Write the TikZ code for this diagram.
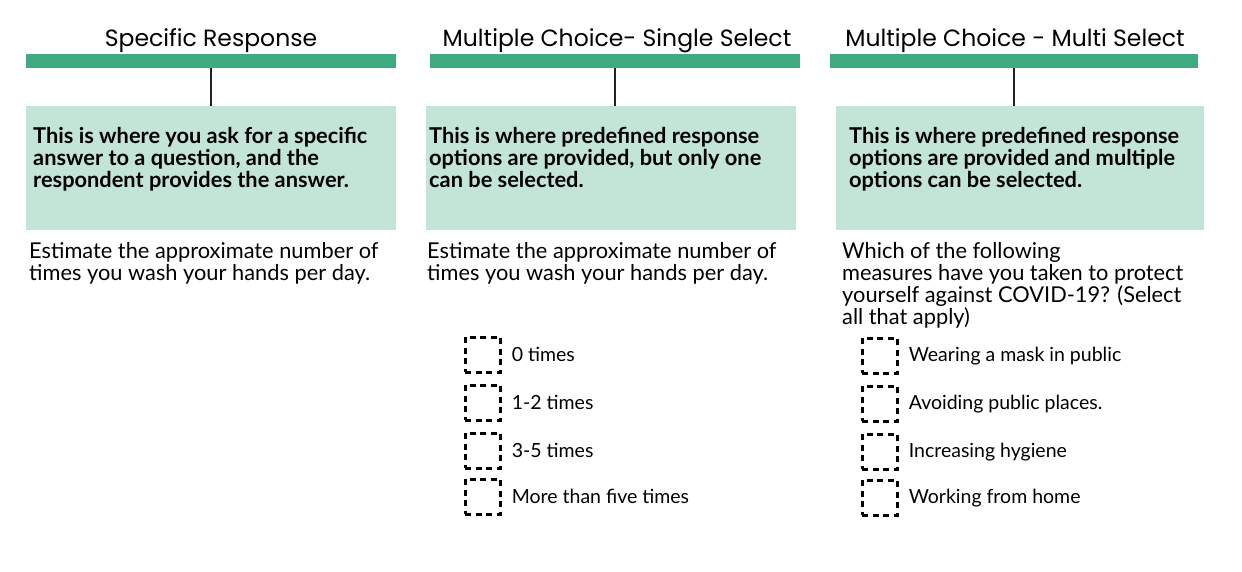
\documentclass[tikz,border=0pt]{standalone}
\usepackage{fontspec}
\setmainfont{Lato}
\newfontfamily\headfont{Poppins}
\usetikzlibrary{positioning}
\definecolor{barGreen}{HTML}{3DAA7F}
\definecolor{boxGreen}{HTML}{C2E5D7}
\definecolor{inkGray}{HTML}{222222}
\tikzset{
    head/.style = {font = \headfont\fontsize{23.5}{27}\selectfont, inner sep = 0},
    bar/.style = {fill = barGreen, minimum width = 370, minimum height = 14, inner sep = 0, anchor = north west},
    note/.style = {fill = boxGreen, minimum width = 370, minimum height = 124, inner sep = 0, anchor = north west},
    stem/.style = {draw = inkGray, line width = 1.6},
    desc/.style = {font = \bfseries\fontsize{21.8}{22}\selectfont, align = left, anchor = north west, inner sep = 0},
    quest/.style = {font = \fontsize{21.8}{22}\selectfont, align = left, anchor = north west, inner sep = 0},
    checkbox/.style = {draw, line width = 2.6, dash pattern = on 6pt off 4.5pt, minimum size = 35, inner sep = 0, anchor = north west},
    opt/.style = {font = \fontsize{19.5}{22}\selectfont, anchor = west, inner sep = 0}
}
\begin{document}
\begin{tikzpicture}[x = 1pt, y = -1pt]
    \useasboundingbox (0,0) rectangle (1242,572);
    % headings and bars
    \node[head] (h1) at (211,41) {Specific Response};
    \node[head] (h2) at (617,41) {Multiple Choice- Single Select};
    \node[head] (h3) at (1015,41) {Multiple Choice - Multi Select};
    \node[bar] (b1) at (26,54) {};
    \node[bar] (b2) at (430,54) {};
    \node[bar, minimum width = 368] (b3) at (830,54) {};
    % definition boxes
    \node[note] (n1) at (26,106) {};
    \node[note] (n2) at (426,106) {};
    \node[note, minimum width = 368] (n3) at (836,106) {};
    \draw[stem] (b1.south) -- (b1.south |- n1.north);
    \draw[stem] (b2.south) -- (b2.south |- n2.north);
    \draw[stem] (b3.south) -- (b3.south |- n3.north);
    \node[desc] (d1) at (33,127) {This is where you ask for a specific\\answer to a question, and the\\respondent provides the answer.};
    \node[desc] (d2) at (429,127) {This is where predefined response\\options are provided, but only one\\can be selected.};
    \node[desc] (d3) at (849,127) {This is where predefined response\\options are provided and multiple\\options can be selected.};
    % example questions
    \node[quest] (q1) at (29,242) {Estimate the approximate number of\\times you wash your hands per day.};
    \node[quest] (q2) at (427,242) {Estimate the approximate number of\\times you wash your hands per day.};
    \node[quest] (q3) at (842,242) {Which of the following\\measures have you taken to protect\\yourself against COVID-19? (Select\\all that apply)};
    % answer options
    \foreach \y/\t [count = \i] in {336/0 times, 384/1-2 times, 432/3-5 times, 478/More than five times} {
        \node[checkbox] (s\i) at (464,\y) {};
        \node[opt, right = 10pt of s\i] (sl\i) {\t};
    }
    \foreach \y/\t [count = \i] in {337/Wearing a mask in public, 385/Avoiding public places., 433/Increasing hygiene, 479/Working from home} {
        \node[checkbox] (m\i) at (861,\y) {};
        \node[opt, right = 10pt of m\i] (ml\i) {\t};
    }
\end{tikzpicture}
\end{document}
